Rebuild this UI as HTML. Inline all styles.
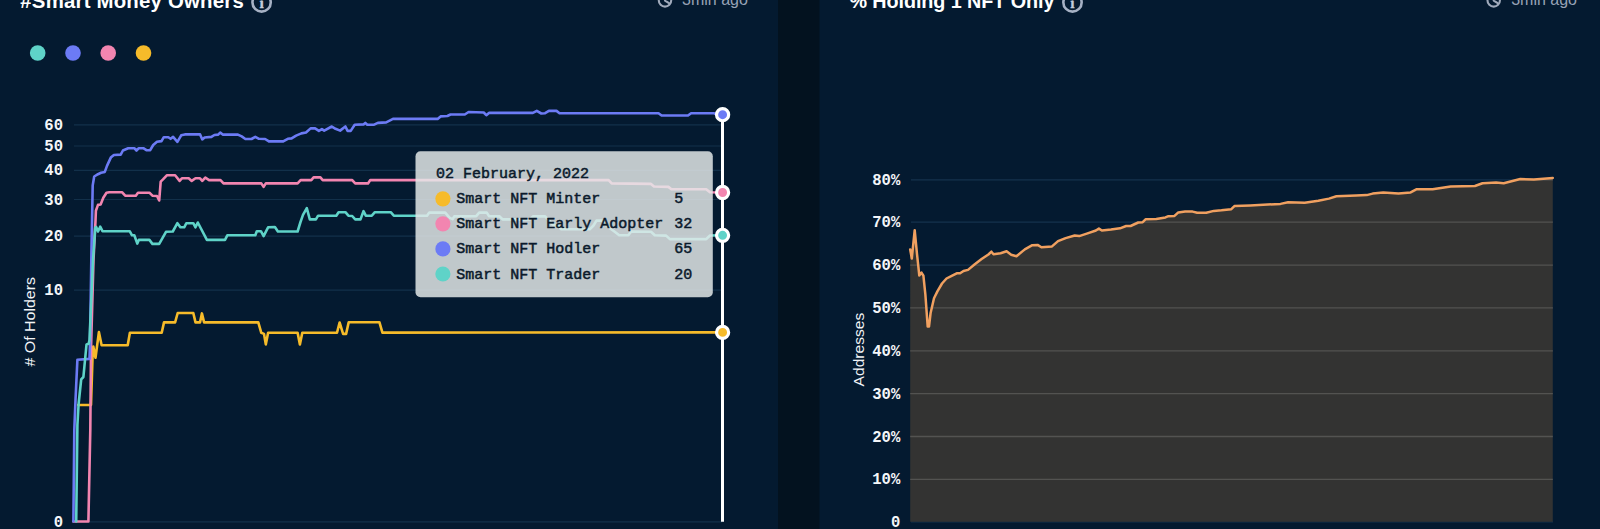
<!DOCTYPE html>
<html lang="en"><head><meta charset="utf-8"><title>Smart Money Owners</title>
<style>
html,body{margin:0;padding:0;background:#03121f;overflow:hidden}
svg{display:block}
.t{font-family:"Liberation Sans",Arial,sans-serif;font-weight:700;font-size:20px;fill:#fff}
.ago{font-family:"Liberation Sans",Arial,sans-serif;font-size:16px;fill:#97a2b5}
.ax{font-family:"Liberation Mono","DejaVu Sans Mono",monospace;font-weight:700;font-size:15.6px;fill:#f4f6f9}
.yl{font-family:"Liberation Sans",Arial,sans-serif;font-size:14px;fill:#f2f4f7}
.tt{font-family:"Liberation Mono","DejaVu Sans Mono",monospace;font-size:15px;fill:#0b1a2b;stroke:#0b1a2b;stroke-width:0.5px}
.ln{fill:none;stroke-width:2.6;stroke-linejoin:round;stroke-linecap:round}
</style></head><body>
<svg width="1600" height="529" viewBox="0 0 1600 529">

<rect x="0" y="0" width="778" height="529" fill="#041a30"/>
<rect x="778" y="0" width="41.5" height="529" fill="#03121f"/>
<rect x="819.5" y="0" width="780.5" height="529" fill="#041a30"/>
<text class="t" x="20.3" y="7.5" id="t1" style="font-size:20.4px" textLength="223.5">#Smart Money Owners</text>
<text class="t" x="849.4" y="7.5" id="t2" style="font-size:19.8px" textLength="205">% Holding 1 NFT Only</text>
<circle cx="261.6" cy="2.45" r="9.15" fill="none" stroke="#a6b1c4" stroke-width="2.6"/>
<text x="261.6" y="7.6" text-anchor="middle" font-family="Liberation Serif,serif" font-weight="700" font-size="15.5" fill="#c3ccdb" stroke="#c3ccdb" stroke-width="0.3">i</text>
<circle cx="1072.5" cy="2.45" r="9.15" fill="none" stroke="#a6b1c4" stroke-width="2.6"/>
<text x="1072.5" y="7.6" text-anchor="middle" font-family="Liberation Serif,serif" font-weight="700" font-size="15.5" fill="#c3ccdb" stroke="#c3ccdb" stroke-width="0.3">i</text>
<path d="M658.8,0.4 A6.2,6.2 0 0 0 671.2,0.4" fill="none" stroke="#a0aabb" stroke-width="2.1" stroke-linecap="round"/>
<path d="M665,-2 L665,0.6 L669,3.2" fill="none" stroke="#a0aabb" stroke-width="2.1" stroke-linecap="round" stroke-linejoin="round"/>
<text class="ago" x="682" y="4.8">3min ago</text>
<path d="M1487.5,0.4 A6.2,6.2 0 0 0 1499.9,0.4" fill="none" stroke="#a0aabb" stroke-width="2.1" stroke-linecap="round"/>
<path d="M1493.7,-2 L1493.7,0.6 L1497.7,3.2" fill="none" stroke="#a0aabb" stroke-width="2.1" stroke-linecap="round" stroke-linejoin="round"/>
<text class="ago" x="1511.2" y="4.8">3min ago</text>
<circle cx="37.7" cy="53" r="7.8" fill="#5fd3c8"/>
<circle cx="73" cy="53" r="7.8" fill="#6c7bf5"/>
<circle cx="108.2" cy="53" r="7.8" fill="#f285b0"/>
<circle cx="143.5" cy="53" r="7.8" fill="#f6bb2a"/>
<line x1="74" y1="124.8" x2="722" y2="124.8" stroke="#12304a" stroke-width="1.2"/>
<text class="ax" x="63" y="129.8" text-anchor="end">60</text>
<line x1="74" y1="146" x2="722" y2="146" stroke="#12304a" stroke-width="1.2"/>
<text class="ax" x="63" y="151.0" text-anchor="end">50</text>
<line x1="74" y1="170.4" x2="722" y2="170.4" stroke="#12304a" stroke-width="1.2"/>
<text class="ax" x="63" y="175.4" text-anchor="end">40</text>
<line x1="74" y1="199.5" x2="722" y2="199.5" stroke="#12304a" stroke-width="1.2"/>
<text class="ax" x="63" y="204.5" text-anchor="end">30</text>
<line x1="74" y1="236.1" x2="722" y2="236.1" stroke="#12304a" stroke-width="1.2"/>
<text class="ax" x="63" y="241.1" text-anchor="end">20</text>
<line x1="74" y1="290.2" x2="722" y2="290.2" stroke="#12304a" stroke-width="1.2"/>
<text class="ax" x="63" y="295.2" text-anchor="end">10</text>
<line x1="74" y1="521.8" x2="722" y2="521.8" stroke="#12304a" stroke-width="1.2"/>
<text class="ax" x="63" y="526.8" text-anchor="end">0</text>
<text class="yl" transform="translate(34.8,366.6) rotate(-90)" textLength="89.6" lengthAdjust="spacingAndGlyphs"># Of Holders</text>
<polyline class="ln" stroke="#f6bb2a" points="78.2,405.0 91.0,405.0 92.5,358.0 93.3,346.5 95.5,357.8 98.9,332.1 101.6,345.3 127.7,345.3 129.9,332.8 161.7,332.8 164.0,322.4 175.1,322.4 177.7,313.0 193.3,313.0 195.5,322.4 200.0,322.4 201.9,313.4 204.1,322.4 258.3,322.4 261.3,332.8 264.0,333.9 265.8,344.4 268.1,332.8 297.6,332.8 299.9,344.4 302.3,332.8 337.0,332.8 339.6,322.5 343.1,333.9 346.1,333.9 348.7,322.2 379.4,322.2 382.4,332.6 722.4,332.4"/>
<polyline class="ln" stroke="#f285b0" points="73.4,521.5 88.4,521.5 90.3,430.0 91.0,349.0 93.5,260.0 95.5,221.0 95.9,210.8 98.0,204.9 100.6,204.5 103.3,197.8 106.5,192.8 109.3,192.3 122.2,192.3 125.2,195.7 135.8,195.7 138.0,192.7 149.4,192.7 152.4,195.7 157.0,196.0 159.2,200.5 160.7,181.6 163.0,179.4 166.8,175.3 175.1,175.3 179.6,180.9 181.9,178.3 188.7,178.3 191.7,180.9 195.5,178.3 200.0,178.3 202.3,180.9 205.3,177.6 209.1,180.1 220.5,180.1 223.5,183.4 261.3,183.4 263.6,186.9 265.8,183.4 297.6,183.4 300.6,180.1 311.3,180.1 313.6,177.4 320.4,177.4 322.7,180.1 352.2,180.1 355.2,183.4 368.0,183.4 370.3,180.1 608.6,180.1 611.7,183.4 651.0,183.9 654.0,186.5 668.4,186.9 671.4,189.2 706.2,189.2 710.0,192.2 722.4,192.5"/>
<polyline class="ln" stroke="#6c7bf5" points="73.4,521.5 74.3,430.0 75.5,400.0 77.4,359.7 89.5,358.9 90.0,345.0 91.3,260.4 92.7,185.4 94.2,176.5 98.0,174.2 101.0,172.8 104.8,171.9 107.0,165.9 110.8,157.6 113.9,155.0 120.7,154.6 122.9,150.5 128.2,148.2 134.3,148.2 136.5,150.5 138.8,148.2 143.3,148.2 146.4,150.2 150.2,150.2 153.2,145.0 157.0,141.8 161.5,141.1 163.8,137.2 168.3,137.2 170.6,138.8 173.1,136.9 177.4,141.8 181.2,135.3 184.9,134.4 200.1,134.4 202.3,139.4 204.6,137.5 211.4,136.9 214.4,135.0 218.2,134.6 220.2,132.6 222.7,134.6 237.9,134.6 241.7,136.4 245.4,139.0 251.5,139.0 255.3,136.8 259.0,138.8 265.1,139.0 268.9,141.4 283.2,141.4 287.8,138.8 291.6,138.4 296.1,135.6 301.4,133.4 306.0,132.5 310.6,128.4 315.1,128.4 318.9,130.9 321.9,129.1 324.2,130.6 331.8,126.5 335.5,128.8 340.1,130.6 345.4,126.5 347.6,130.9 350.7,130.9 354.7,124.7 363.5,124.4 365.3,122.9 367.3,124.7 374.1,124.7 377.9,122.9 386.2,122.4 393.0,118.9 437.6,118.9 440.6,116.4 447.4,116.0 450.5,114.5 464.8,114.5 468.6,112.0 483.7,112.5 486.3,115.2 489.0,112.9 532.9,112.9 536.8,110.9 541.3,113.5 545.1,113.2 548.9,110.9 556.5,110.9 559.5,113.2 658.5,113.2 661.6,115.5 688.0,115.5 691.1,113.2 713.7,113.2 717.5,115.0 722.4,115.0"/>
<polyline class="ln" stroke="#5fd3c8" points="76.2,521.5 77.4,425.0 78.6,404.0 81.2,379.3 83.4,377.0 86.5,344.5 88.7,343.8 89.5,340.0 93.0,260.0 95.2,227.8 96.2,227.0 98.0,231.5 100.2,226.7 102.5,231.2 129.7,231.2 132.0,235.3 134.3,235.3 137.3,243.6 138.8,239.9 149.4,239.9 152.4,243.9 159.2,243.9 166.0,231.8 172.8,231.5 177.4,223.2 180.4,227.3 184.2,227.3 186.4,223.2 193.3,223.2 195.5,227.3 197.8,222.5 206.9,239.9 225.0,239.9 227.3,235.3 255.3,235.3 256.8,231.2 260.9,231.2 263.6,236.1 268.1,227.3 274.9,227.0 277.9,231.5 297.6,231.5 300.5,222.0 303.0,214.9 306.8,208.1 309.8,219.4 315.9,219.4 318.1,215.7 336.3,215.7 338.6,212.2 345.4,212.2 348.4,215.7 352.2,216.0 355.2,219.4 360.5,219.4 363.5,211.1 365.8,215.7 371.8,215.7 374.9,212.2 390.7,212.2 393.8,215.7 427.0,215.7 429.3,212.6 445.2,212.6 449.7,217.9 452.7,219.1 454.3,216.4 476.2,216.1 479.2,212.6 486.8,212.6 489.0,216.1 499.6,216.4 502.6,219.4 530.0,219.4 533.0,216.4 545.1,216.4 548.1,219.4 552.7,224.7 558.0,225.5 561.0,229.3 589.7,229.3 593.5,225.5 596.5,220.6 602.6,220.6 605.6,224.7 610.2,228.5 614.7,231.8 619.2,235.3 628.3,235.3 631.3,231.5 651.0,231.8 654.8,235.3 666.1,235.6 669.9,239.1 706.2,239.1 710.0,235.5 722.4,235.3"/>
<rect x="415.5" y="151.2" width="297.3" height="146" rx="5" fill="#e5e9ea" fill-opacity="0.84"/>
<text class="tt" x="436" y="178.1">02 February, 2022</text>
<circle cx="442.9" cy="198.8" r="7.6" fill="#f6bb2a"/>
<text class="tt" x="456.3" y="203.3">Smart NFT Minter</text>
<text class="tt" x="674.3" y="203.3">5</text>
<circle cx="442.9" cy="223.8" r="7.6" fill="#f285b0"/>
<text class="tt" x="456.3" y="228.3">Smart NFT Early Adopter</text>
<text class="tt" x="674.3" y="228.3">32</text>
<circle cx="442.9" cy="248.9" r="7.6" fill="#6c7bf5"/>
<text class="tt" x="456.3" y="253.4">Smart NFT Hodler</text>
<text class="tt" x="674.3" y="253.4">65</text>
<circle cx="442.9" cy="274.0" r="7.6" fill="#5fd3c8"/>
<text class="tt" x="456.3" y="278.5">Smart NFT Trader</text>
<text class="tt" x="674.3" y="278.5">20</text>
<line x1="722.5" y1="114" x2="722.5" y2="521.8" stroke="#ffffff" stroke-width="3"/>
<circle cx="722.6" cy="114.7" r="6.05" fill="#6c7bf5" stroke="#ffffff" stroke-width="3.2"/>
<circle cx="722.6" cy="192.5" r="6.05" fill="#f285b0" stroke="#ffffff" stroke-width="3.2"/>
<circle cx="722.6" cy="235.3" r="6.05" fill="#5fd3c8" stroke="#ffffff" stroke-width="3.2"/>
<circle cx="722.6" cy="332.4" r="6.05" fill="#f6bb2a" stroke="#ffffff" stroke-width="3.2"/>
<line x1="911" y1="179.8" x2="1553" y2="179.8" stroke="#14324c" stroke-width="1.3"/>
<text class="ax" x="900.3" y="184.8" text-anchor="end">80%</text>
<line x1="911" y1="222.2" x2="1553" y2="222.2" stroke="#14324c" stroke-width="1.3"/>
<text class="ax" x="900.3" y="227.2" text-anchor="end">70%</text>
<line x1="911" y1="265.1" x2="1553" y2="265.1" stroke="#14324c" stroke-width="1.3"/>
<text class="ax" x="900.3" y="270.1" text-anchor="end">60%</text>
<line x1="911" y1="307.9" x2="1553" y2="307.9" stroke="#14324c" stroke-width="1.3"/>
<text class="ax" x="900.3" y="312.9" text-anchor="end">50%</text>
<line x1="911" y1="350.8" x2="1553" y2="350.8" stroke="#14324c" stroke-width="1.3"/>
<text class="ax" x="900.3" y="355.8" text-anchor="end">40%</text>
<line x1="911" y1="393.7" x2="1553" y2="393.7" stroke="#14324c" stroke-width="1.3"/>
<text class="ax" x="900.3" y="398.7" text-anchor="end">30%</text>
<line x1="911" y1="436.5" x2="1553" y2="436.5" stroke="#14324c" stroke-width="1.3"/>
<text class="ax" x="900.3" y="441.5" text-anchor="end">20%</text>
<line x1="911" y1="479.4" x2="1553" y2="479.4" stroke="#14324c" stroke-width="1.3"/>
<text class="ax" x="900.3" y="484.4" text-anchor="end">10%</text>
<line x1="911" y1="521.8" x2="1553" y2="521.8" stroke="#14324c" stroke-width="1.3"/>
<text class="ax" x="900.3" y="526.8" text-anchor="end">0</text>
<clipPath id="ac"><polygon points="910.2,249.5 911.8,258.5 914.7,230.2 917.0,254.0 919.3,275.6 921.5,272.6 923.4,275.6 925.4,294.8 927.7,326.6 929.0,326.6 930.6,313.0 934.0,298.2 937.4,291.4 942.0,283.5 946.5,278.5 952.2,275.6 956.7,273.3 960.1,273.3 963.5,271.0 968.0,269.9 974.8,264.2 981.6,259.0 988.4,254.5 991.4,251.7 993.5,254.2 1000.6,253.2 1006.6,251.3 1011.2,254.7 1016.5,256.2 1024.8,249.4 1032.3,245.2 1037.6,244.9 1041.4,247.2 1052.0,246.4 1058.0,241.1 1065.6,238.1 1074.7,235.5 1079.2,236.1 1086.8,233.6 1095.9,230.5 1098.9,228.6 1101.9,230.5 1111.0,229.5 1120.0,228.3 1126.1,226.0 1130.6,226.0 1138.2,222.5 1142.7,222.2 1145.8,219.2 1156.3,218.9 1165.4,217.4 1168.4,216.2 1174.5,215.9 1178.3,212.4 1185.1,211.6 1192.6,211.6 1197.2,212.8 1206.2,212.8 1213.8,210.9 1221.4,210.3 1231.3,209.2 1234.4,206.1 1250.2,205.4 1280.5,203.9 1288.1,202.3 1304.7,202.8 1318.3,200.8 1328.9,198.6 1336.4,196.3 1356.1,195.5 1366.7,195.1 1372.7,193.6 1383.3,192.4 1398.5,193.4 1410.6,192.4 1416.3,189.3 1432.6,189.2 1450.7,186.6 1474.9,186.0 1482.5,183.3 1496.1,182.5 1503.7,183.3 1520.3,179.0 1533.9,179.5 1552.8,178.0 1552.8,521.8 910.2,521.8"/></clipPath>
<polygon points="910.2,249.5 911.8,258.5 914.7,230.2 917.0,254.0 919.3,275.6 921.5,272.6 923.4,275.6 925.4,294.8 927.7,326.6 929.0,326.6 930.6,313.0 934.0,298.2 937.4,291.4 942.0,283.5 946.5,278.5 952.2,275.6 956.7,273.3 960.1,273.3 963.5,271.0 968.0,269.9 974.8,264.2 981.6,259.0 988.4,254.5 991.4,251.7 993.5,254.2 1000.6,253.2 1006.6,251.3 1011.2,254.7 1016.5,256.2 1024.8,249.4 1032.3,245.2 1037.6,244.9 1041.4,247.2 1052.0,246.4 1058.0,241.1 1065.6,238.1 1074.7,235.5 1079.2,236.1 1086.8,233.6 1095.9,230.5 1098.9,228.6 1101.9,230.5 1111.0,229.5 1120.0,228.3 1126.1,226.0 1130.6,226.0 1138.2,222.5 1142.7,222.2 1145.8,219.2 1156.3,218.9 1165.4,217.4 1168.4,216.2 1174.5,215.9 1178.3,212.4 1185.1,211.6 1192.6,211.6 1197.2,212.8 1206.2,212.8 1213.8,210.9 1221.4,210.3 1231.3,209.2 1234.4,206.1 1250.2,205.4 1280.5,203.9 1288.1,202.3 1304.7,202.8 1318.3,200.8 1328.9,198.6 1336.4,196.3 1356.1,195.5 1366.7,195.1 1372.7,193.6 1383.3,192.4 1398.5,193.4 1410.6,192.4 1416.3,189.3 1432.6,189.2 1450.7,186.6 1474.9,186.0 1482.5,183.3 1496.1,182.5 1503.7,183.3 1520.3,179.0 1533.9,179.5 1552.8,178.0 1552.8,521.8 910.2,521.8" fill="#333332"/>
<g clip-path="url(#ac)">
<line x1="905" y1="179.8" x2="1560" y2="179.8" stroke="#535351" stroke-width="1.3"/>
<line x1="905" y1="222.2" x2="1560" y2="222.2" stroke="#535351" stroke-width="1.3"/>
<line x1="905" y1="265.1" x2="1560" y2="265.1" stroke="#535351" stroke-width="1.3"/>
<line x1="905" y1="307.9" x2="1560" y2="307.9" stroke="#535351" stroke-width="1.3"/>
<line x1="905" y1="350.8" x2="1560" y2="350.8" stroke="#535351" stroke-width="1.3"/>
<line x1="905" y1="393.7" x2="1560" y2="393.7" stroke="#535351" stroke-width="1.3"/>
<line x1="905" y1="436.5" x2="1560" y2="436.5" stroke="#535351" stroke-width="1.3"/>
<line x1="905" y1="479.4" x2="1560" y2="479.4" stroke="#535351" stroke-width="1.3"/>
</g>
<polyline class="ln" style="stroke-width:2.5" stroke="#f0a060" points="910.2,249.5 911.8,258.5 914.7,230.2 917.0,254.0 919.3,275.6 921.5,272.6 923.4,275.6 925.4,294.8 927.7,326.6 929.0,326.6 930.6,313.0 934.0,298.2 937.4,291.4 942.0,283.5 946.5,278.5 952.2,275.6 956.7,273.3 960.1,273.3 963.5,271.0 968.0,269.9 974.8,264.2 981.6,259.0 988.4,254.5 991.4,251.7 993.5,254.2 1000.6,253.2 1006.6,251.3 1011.2,254.7 1016.5,256.2 1024.8,249.4 1032.3,245.2 1037.6,244.9 1041.4,247.2 1052.0,246.4 1058.0,241.1 1065.6,238.1 1074.7,235.5 1079.2,236.1 1086.8,233.6 1095.9,230.5 1098.9,228.6 1101.9,230.5 1111.0,229.5 1120.0,228.3 1126.1,226.0 1130.6,226.0 1138.2,222.5 1142.7,222.2 1145.8,219.2 1156.3,218.9 1165.4,217.4 1168.4,216.2 1174.5,215.9 1178.3,212.4 1185.1,211.6 1192.6,211.6 1197.2,212.8 1206.2,212.8 1213.8,210.9 1221.4,210.3 1231.3,209.2 1234.4,206.1 1250.2,205.4 1280.5,203.9 1288.1,202.3 1304.7,202.8 1318.3,200.8 1328.9,198.6 1336.4,196.3 1356.1,195.5 1366.7,195.1 1372.7,193.6 1383.3,192.4 1398.5,193.4 1410.6,192.4 1416.3,189.3 1432.6,189.2 1450.7,186.6 1474.9,186.0 1482.5,183.3 1496.1,182.5 1503.7,183.3 1520.3,179.0 1533.9,179.5 1552.8,178.0"/>
<text class="yl" transform="translate(863.6,386.4) rotate(-90)" style="font-size:15.2px" textLength="73.7" lengthAdjust="spacingAndGlyphs">Addresses</text>
</svg></body></html>
